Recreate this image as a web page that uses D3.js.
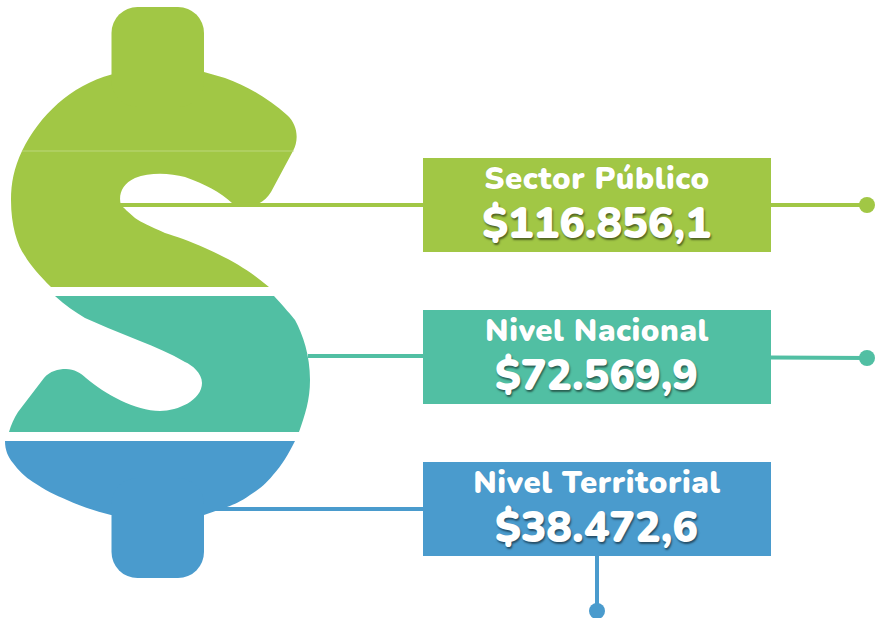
<!DOCTYPE html>
<html>
<head>
<meta charset="utf-8">
<script src="https://cdn.jsdelivr.net/npm/d3@7"></script>
<style>
    html, body { margin: 0; padding: 0; background: #fff; overflow: hidden; }
    svg { display: block; }
    text { font-family: "Nunito", "Lato", "Noto Sans", sans-serif; fill: #fff; text-anchor: middle; }
    .label { font-weight: 900; font-size: 31px; letter-spacing: 0.55px; text-shadow: 0 0 1px rgba(0,0,0,0.15); }
    .value { font-weight: 900; font-size: 42.8px; text-shadow: 1px 2px 2px rgba(0,0,0,0.5); }
</style>
</head>
<body>
<div id="chart"></div>
<script>
var categories = ['Sector Público', 'Nivel Nacional', 'Nivel Territorial'];
var values = [116856.1, 72569.9, 38472.6];
var colors = ['#a1c745', '#51bfa3', '#4a9bcd'];

// outline of the dollar sign, cut in three bands
var bandPaths = [
    'M111.5,74.5 C70,86 40,115 22,151 C14,168 11,183 11,200 C11,225 17,245 25,256 C30,265 40,276 51,287 L269,287 C250,271 232,260 205,248 C190,241 175,236 165,233 C150,226 142,223 135,218 C128,212 124,208 121,205 C118,195 122,184 135,178 C150,172 170,173 185,177 C205,184 220,192 232,203 L258,204 C264,201 268,197 271,192 L293,151 C299,140 298,125 287,115 C270,100 250,87 225,78 L204,72 Z',
    'M55,296 L274,296 C285,308 291,315 295,320 C303,335 310,355 310,380 C310,400 305,415 299,432 L9,432 C11,425 14,418 18,412 L44,378 C50,371 58,369 66,369 C74,369 81,373 86,378 C105,394 135,411 160,411 C178,411 202,400 202,383 C202,373 192,365 185,362 C170,353 155,347 140,341 L108,328 L85,318 C75,312 65,305 55,296 Z',
    'M5,441 L295,441 C288,455 282,465 273,475 C265,485 258,490 250,495 C240,502 235,504 227,507 L204,515 L111,515 C95,511 80,506 67,500 C55,495 45,490 33,482 C25,477 18,470 13,463 C8,457 5,450 5,441 Z'
];

var width = 875,
    height = 618;

var svg = d3.select('#chart').append('svg')
    .attr('width', width)
    .attr('height', height);

// Box layout
var boxHeight = 94;
var x = d3.scaleLinear().domain([0, 1]).range([423, 771]);
var y = d3.scalePoint().domain(categories).range([158, 462]);
var color = d3.scaleOrdinal().domain(categories).range(colors);

// number format used in the picture: dot for thousands, comma for decimals
var format = d3.formatLocale({ decimal: ',', thousands: '.', grouping: [3], currency: ['$', ''] }).format('$,.1f');

// Dollar sign
svg.selectAll('path.band')
    .data(categories)
    .enter().append('path')
    .attr('class', 'band')
    .attr('d', function(d, i) { return bandPaths[i]; })
    .attr('fill', function(d) { return color(d); });

// stems of the dollar sign
svg.selectAll('rect.stem')
    .data([categories[0], categories[2]])
    .enter().append('rect')
    .attr('class', 'stem')
    .attr('x', 111.5)
    .attr('y', function(d, i) { return i === 0 ? 7 : 478; })
    .attr('width', 92.5)
    .attr('height', 100)
    .attr('rx', 26)
    .attr('fill', function(d) { return color(d); });

// thin light seam in the green band
svg.append('line')
    .attr('x1', 22).attr('x2', 294)
    .attr('y1', 151).attr('y2', 151)
    .attr('stroke', '#c4dc8c')
    .attr('stroke-width', 0.8);

// Connectors: from the sign to the box, then on to the dot
var connectors = [
    { from: [120, 205], to: [423, 205], end: [867, 205], out: [771, 205] },
    { from: [308, 356], to: [423, 356], end: [867, 358], out: [771, 357.5] },
    { from: [215, 509], to: [423, 509], end: [597, 611], out: [597, 556] }
];

categories.forEach(function(d, i) {
    var c = connectors[i];
    [[c.from, c.to], [c.out, c.end]].forEach(function(seg) {
        svg.append('line')
            .attr('x1', seg[0][0]).attr('y1', seg[0][1])
            .attr('x2', seg[1][0]).attr('y2', seg[1][1])
            .attr('stroke', color(d))
            .attr('stroke-width', 4);
    });
    svg.append('circle')
        .attr('cx', c.end[0])
        .attr('cy', c.end[1])
        .attr('r', 8)
        .attr('fill', color(d));
});

// Boxes
var box = svg.selectAll('g.box')
    .data(categories)
    .enter().append('g')
    .attr('class', 'box')
    .attr('transform', function(d) { return 'translate(' + x(0) + ',' + y(d) + ')'; });

box.append('rect')
    .attr('width', x(1) - x(0))
    .attr('height', boxHeight)
    .attr('fill', function(d) { return color(d); });

box.append('text')
    .attr('class', 'label')
    .attr('x', (x(1) - x(0)) / 2)
    .attr('y', 31)
    .text(function(d) { return d; });

box.append('text')
    .attr('class', 'value')
    .attr('x', (x(1) - x(0)) / 2 - 0.5)
    .attr('y', 80)
    .text(function(d, i) { return format(values[i]); });
</script>
</body>
</html>
